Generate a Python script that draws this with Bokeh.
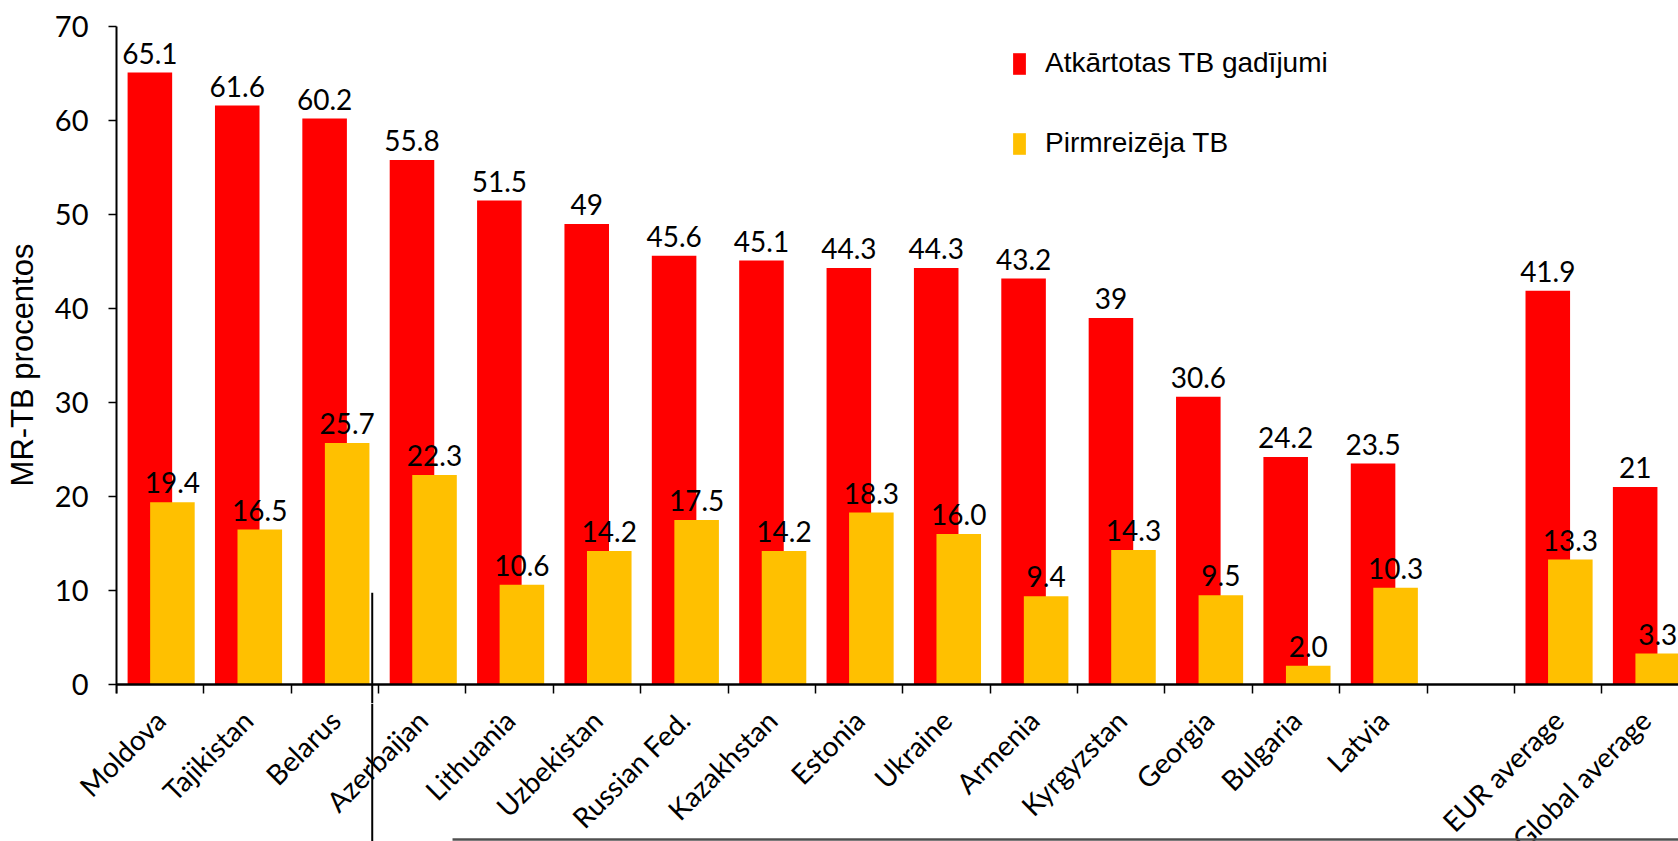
from bokeh.plotting import figure
from bokeh.layouts import column
from bokeh.models import (ColumnDataSource, Range1d, FixedTicker, Legend,
                          LegendItem)
from bokeh.core.properties import value
from bokeh.embed import file_html
from bokeh.resources import INLINE

# ---------------- data ----------------
categories = ["Moldova", "Tajikistan", "Belarus", "Azerbaijan", "Lithuania",
              "Uzbekistan", "Russian Fed.", "Kazakhstan", "Estonia", "Ukraine",
              "Armenia", "Kyrgyzstan", "Georgia", "Bulgaria", "Latvia", "",
              "EUR average", "Global average"]
retreated = [65.1, 61.6, 60.2, 55.8, 51.5, 49, 45.6, 45.1, 44.3, 44.3, 43.2,
             39, 30.6, 24.2, 23.5, None, 41.9, 21]
new_cases = [19.4, 16.5, 25.7, 22.3, 10.6, 14.2, 17.5, 14.2, 18.3, 16.0, 9.4,
             14.3, 9.5, 2.0, 10.3, None, 13.3, 3.3]
y_ticks = [0, 10, 20, 30, 40, 50, 60, 70]
series_names = ["Atkārtotas TB gadījumi", "Pirmreizēja TB"]
y_title = "MR-TB procentos"

# ---------------- style / layout ----------------
RED = "#FF0000"
GOLD = "#FFC000"
NUM_FONT = "Lato"
TXT_FONT = "Liberation Sans"
RED_OFF, GOLD_OFF, BAR_W = 0.382, 0.640, 0.51
LABEL_GAP = 2.05
CAT_DX, CAT_Y = 0.50, -3.25
X_END = 17.878
Y_LOW = -2.021            # main frame reaches a little below zero
STRIP_LOW = -16.702       # lower strip holding the slanted category names
X_LEFT_STRIP = -1.3277

idx = [i for i, v in enumerate(retreated) if v is not None]
red_src = ColumnDataSource(dict(
    x=[i + RED_OFF for i in idx],
    top=[retreated[i] for i in idx],
    ly=[retreated[i] + LABEL_GAP for i in idx],
    txt=[f"{retreated[i]:g}" for i in idx]))
gold_src = ColumnDataSource(dict(
    x=[i + GOLD_OFF for i in idx],
    top=[new_cases[i] for i in idx],
    ly=[new_cases[i] + LABEL_GAP for i in idx],
    txt=[f"{new_cases[i]:.1f}" for i in idx]))
cidx = [i for i, c in enumerate(categories) if c]
cat_src = ColumnDataSource(dict(
    x=[i + CAT_DX for i in cidx],
    y=[CAT_Y] * len(cidx),
    txt=[categories[i] for i in cidx]))

# ---------------- main chart ----------------
p = figure(width=1678, height=703, x_range=Range1d(0, X_END),
           y_range=Range1d(Y_LOW, 70), output_backend="svg",
           toolbar_location=None, x_axis_location="above",
           min_border_left=116, min_border_right=0,
           min_border_top=26, min_border_bottom=0)
p.outline_line_color = None
p.grid.visible = False

r_red = p.vbar(x="x", top="top", width=BAR_W, bottom=0, source=red_src,
               fill_color=RED, line_color=None)
r_gold = p.vbar(x="x", top="top", width=BAR_W, bottom=0, source=gold_src,
                fill_color=GOLD, line_color=None)

for src in (red_src, gold_src):
    p.text(x="x", y="ly", text="txt", source=src, text_align="center",
           text_baseline="alphabetic", text_font=value(NUM_FONT),
           text_font_size="28px", text_color="black")

# y axis
ya = p.yaxis[0]
ya.ticker = FixedTicker(ticks=y_ticks, minor_ticks=[])
ya.bounds = (-0.96, 70)
ya.axis_line_width = 2
ya.axis_line_color = "black"
ya.major_tick_line_width = 1.5
ya.major_tick_out = 8
ya.major_tick_in = 0
ya.minor_tick_line_color = None
ya.major_label_standoff = 20
ya.major_label_text_font = NUM_FONT
ya.major_label_text_font_size = "29px"
ya.major_label_text_color = "black"
ya.axis_label = y_title
ya.axis_label_text_font = TXT_FONT
ya.axis_label_text_font_size = "31px"
ya.axis_label_text_font_style = "normal"
ya.axis_label_text_color = "black"
ya.axis_label_standoff = 12

# x axis drawn at y = 0, tick marks at the category boundaries
xa = p.xaxis[0]
xa.fixed_location = 0
xa.ticker = FixedTicker(ticks=[], minor_ticks=list(range(len(categories) + 1)))
xa.axis_line_width = 2.5
xa.axis_line_color = "black"
xa.major_tick_line_color = None
xa.minor_tick_line_color = "black"
xa.minor_tick_line_width = 1.5
xa.minor_tick_out = 0
xa.minor_tick_in = 9

legend = Legend(items=[LegendItem(label=value(series_names[0]), renderers=[r_red]),
                       LegendItem(label=value(series_names[1]), renderers=[r_gold])],
                location=(895, 543), glyph_width=16, glyph_height=27,
                label_standoff=18, spacing=46, label_height=34, padding=0,
                margin=0, border_line_color=None, background_fill_alpha=0,
                label_text_font=TXT_FONT, label_text_font_size="28px",
                label_text_color="black")
p.add_layout(legend)

# stray vertical rule present in the source image
RULE_X, RULE_TOP = 2.927, 9.76
p.segment(x0=[RULE_X], y0=[RULE_TOP], x1=[RULE_X], y1=[STRIP_LOW],
          line_color="black", line_width=2)

# ---------------- strip with slanted category names ----------------
q = figure(width=1678, height=138, x_range=Range1d(X_LEFT_STRIP, X_END),
           y_range=Range1d(STRIP_LOW, Y_LOW), output_backend="svg",
           toolbar_location=None, x_axis_type=None, y_axis_type=None,
           min_border_left=0, min_border_right=0, min_border_top=0,
           min_border_bottom=0)
q.outline_line_color = None
q.grid.visible = False
q.text(x="x", y="y", text="txt", source=cat_src, angle=45, angle_units="deg",
       text_align="right", text_baseline="middle", text_font=value(NUM_FONT),
       text_font_size="28px", text_color="black")
q.segment(x0=[RULE_X], y0=[Y_LOW], x1=[RULE_X], y1=[STRIP_LOW],
          line_color="black", line_width=2)
BASE_Y, BASE_X0 = -16.49, 3.846
q.segment(x0=[BASE_X0], y0=[BASE_Y], x1=[X_END], y1=[BASE_Y],
          line_color="#505050", line_width=2.5)

# keep each plot's own frame (no frame alignment across the column)
for fig in (p, q):
    if "frame_align" in fig.properties():
        fig.frame_align = False

layout = column(p, q, spacing=0)
open("out.html", "w").write(file_html(layout, INLINE))
